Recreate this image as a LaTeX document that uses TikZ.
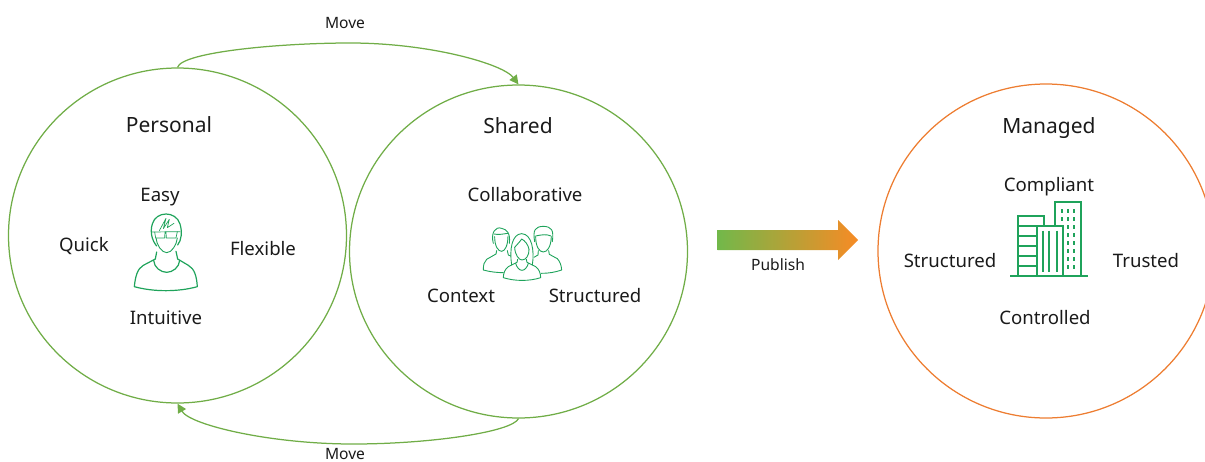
\documentclass[tikz,border=0pt]{standalone}
\usepackage{fontspec}
\setmainfont{Noto Sans}
\usetikzlibrary{arrows.meta,shapes.geometric}
\definecolor{lg}{HTML}{70AD47}
\definecolor{og}{HTML}{ED7D31}
\definecolor{ag}{HTML}{72B84A}
\definecolor{ar}{HTML}{F78B25}
\definecolor{ic}{HTML}{1FA35B}
\definecolor{tx}{HTML}{1A1A1A}
\tikzset{
  ring/.style={draw=#1,line width=1.25pt,ellipse,inner sep=0pt,fill=none},
  head/.style={font=\fontsize{21}{24}\selectfont,text=tx,inner sep=0pt,anchor=base},
  lab/.style={font=\fontsize{18.6}{21}\selectfont,text=tx,inner sep=0pt,anchor=base},
  small/.style={font=\fontsize{15.6}{17}\selectfont,text=tx,inner sep=0pt,anchor=base},
  mover/.style={draw=lg,line width=1.25pt,-{Triangle[length=9pt,width=9pt]}},
  icon/.style={draw=ic,line width=1.2pt,line join=round,line cap=round},
  iconthin/.style={draw=ic,line width=0.9pt,line join=round,line cap=round},
  iconfine/.style={draw=ic,line width=0.7pt,line join=round,line cap=round},
  iconbold/.style={draw=ic,line width=1.7pt}
}
\begin{document}
\begin{tikzpicture}[x=1pt,y=-1pt]
\useasboundingbox (0,0) rectangle (1205,461);
\clip (0,0) rectangle (1205,461);
\node[ring=lg,minimum width=338pt,minimum height=335pt] (per) at (177.5,235.5) {};
\node[ring=lg,minimum width=338pt,minimum height=333pt] (sha) at (518.5,251.5) {};
\node[ring=og,minimum width=336pt,minimum height=334pt] (man) at (1046,251) {};
\coordinate (top) at (350,43);
\coordinate (bot) at (353,444);
\draw[mover] (per.north) .. controls (182,52) and (280,43) .. (top) .. controls (430,43) and (503,64) .. (sha.north);
\draw[mover] (sha.south) .. controls (512,432) and (430,444) .. (bot) .. controls (270,444) and (190,425) .. (per.south);
\node[head] (tper) at (169,132) {Personal};
\node[head] (tsha) at (518,133) {Shared};
\node[head] (tman) at (1049,133) {Managed};
\node[lab] (a1) at (160,201) {Easy};
\node[lab] (a2) at (84,251) {Quick};
\node[lab] (a3) at (263,255) {Flexible};
\node[lab] (a4) at (166,324) {Intuitive};
\node[lab] (b1) at (525,201) {Collaborative};
\node[lab] (b2) at (461,302) {Context};
\node[lab] (b3) at (595,302) {Structured};
\node[lab] (c1) at (1049,191) {Compliant};
\node[lab] (c2) at (950,267) {Structured};
\node[lab] (c3) at (1146,267) {Trusted};
\node[lab] (c4) at (1045,324) {Controlled};
\node[small] (m1) at (345,28) {Move};
\node[small] (m2) at (345,459) {Move};
\node[small] (pub) at (778,270) {Publish};
% publish arrow
\path[left color=ag,right color=ar,draw=none] (717.5,230) -- (838,230) -- (838,220) -- (858,240) -- (838,260) -- (838,250) -- (717.5,250) -- cycle;
% person icon
\begin{scope}[shift={(110,190)},x=0.3333pt,y=-0.3333pt]
\draw[icon] (140,168) .. controls (125,150) and (120,125) .. (127,102) .. controls (138,62) and (198,62) .. (210,102) .. controls (217,125) and (215,150) .. (203,165);
\draw[iconthin] (138,144) .. controls (140,165) and (155,188) .. (170,188) .. controls (185,188) and (200,165) .. (202,144);
\draw[iconfine] (127,126) -- (210,125);
\draw[iconfine] (134,126) -- (137,144) -- (164,144) -- (165,126) (168,126) -- (169,144) -- (198,144) -- (202,125);
\draw[iconfine] (148,122) -- (168,85) -- (160,116) -- (178,88) -- (172,113) -- (192,100);
\draw[icon] (140,186) -- (136,207) (198,184) -- (203,207);
\draw[icon] (131,211) .. controls (132,232) and (152,247) .. (170,247) .. controls (188,247) and (208,232) .. (209,211);
\draw[icon] (136,207) -- (100,226) .. controls (82,236) and (76,260) .. (73,290) .. controls (130,306) and (205,306) .. (262,290) .. controls (260,260) and (254,236) .. (235,226) -- (203,207);
\end{scope}
% group icon
\begin{scope}[shift={(470,210)},x=0.3333pt,y=-0.3333pt]
\draw[iconthin] (70,100) .. controls (62,70) and (75,48) .. (95,55) .. controls (110,58) and (122,70) .. (118,100);
\draw[iconthin] (72,72) .. controls (85,75) and (100,72) .. (113,70);
\draw[iconthin] (74,80) .. controls (74,110) and (85,124) .. (95,124) .. controls (105,124) and (114,105) .. (114,78);
\draw[iconthin] (80,122) -- (78,132) -- (50,148) .. controls (42,155) and (40,165) .. (40,180) .. controls (60,186) and (85,188) .. (100,188);
\draw[iconthin] (112,122) -- (115,135) -- (122,138);
\draw[iconthin] (194,95) .. controls (188,60) and (195,50) .. (220,49) .. controls (245,50) and (252,60) .. (247,95);
\draw[iconthin] (197,80) .. controls (197,110) and (208,126) .. (220,126) .. controls (232,126) and (243,110) .. (244,80);
\draw[iconthin] (197,78) .. controls (215,74) and (230,72) .. (243,78);
\draw[iconthin] (205,122) -- (204,135) -- (192,142);
\draw[iconthin] (236,122) -- (238,133) -- (262,146) .. controls (270,155) and (274,165) .. (275,180) .. controls (255,187) and (235,190) .. (214,190);
\draw[iconthin] (125,165) .. controls (118,120) and (125,72) .. (155,71) .. controls (185,72) and (194,120) .. (187,165);
\draw[iconthin] (134,112) .. controls (140,105) and (150,95) .. (155,87) .. controls (165,92) and (175,105) .. (177,118);
\draw[iconthin] (134,112) .. controls (135,135) and (147,150) .. (156,150) .. controls (168,150) and (178,135) .. (177,118);
\draw[iconthin] (143,148) -- (141,157) -- (115,170) .. controls (105,177) and (100,190) .. (100,203) .. controls (135,214) and (178,214) .. (212,203) .. controls (212,190) and (207,177) .. (197,170) -- (171,157) -- (169,148);
\draw[iconthin] (137,160) .. controls (140,172) and (148,181) .. (156,181) .. controls (164,181) and (172,172) .. (175,160);
\end{scope}
% building icon
\begin{scope}[shift={(1000,190)},x=0.3333pt,y=-0.3333pt]
\draw[iconbold] (30,258) -- (265,258);
\draw[iconbold] (53,258) -- (53,77) -- (132,77) -- (132,107);
\draw[iconbold] (53,107) -- (190,107) -- (190,258);
\draw[iconbold] (112,107) -- (112,258);
\foreach \yy in {137,168,198,228} \draw[iconbold] (53,\yy) -- (112,\yy);
\foreach \xx in {128,148,170} \draw[iconbold] (\xx,122) -- (\xx,245);
\draw[iconbold] (165,107) -- (165,36) -- (242,36) -- (242,258);
\foreach \xx in {185,203,221} \foreach \yy in {62,87} \fill[ic] (\xx-3,\yy-6) rectangle (\xx+3,\yy+6);
\foreach \xx in {203,221} \foreach \yy in {111,135,159,183,208,232} \fill[ic] (\xx-3,\yy-6) rectangle (\xx+3,\yy+6);
\end{scope}
\end{tikzpicture}
\end{document}
